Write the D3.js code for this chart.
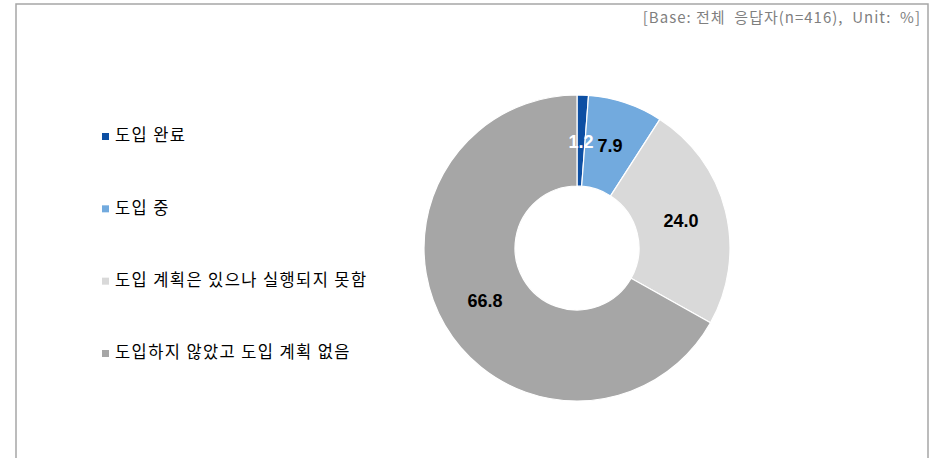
<!DOCTYPE html>
<html><head><meta charset="utf-8">
<script src="https://cdn.jsdelivr.net/npm/d3@7"></script>
<style>body{margin:0;background:#fff;}</style>
</head><body>
<svg id="c" width="945" height="458"></svg>
<script>
const categories = ["도입 완료", "도입 중", "도입 계획은 있으나 실행되지 못함", "도입하지 않았고 도입 계획 없음"];
const values = [1.2, 7.9, 24.0, 66.8];
const colors = ["#0d4fa3", "#72aade", "#d9d9d9", "#a6a6a6"];
const labelColors = ["#ffffff", "#000000", "#000000", "#000000"];
const note = "[Base: 전체  응답자(n=416),  Unit:  %]";

const svg = d3.select("#c");
const kfont = "'Noto Sans CJK KR', 'Noto Sans', sans-serif";

// frame
svg.append("path").attr("d", "M16,458 L16,4 L928,4 L928,458")
  .attr("fill", "none").attr("stroke", "#a6a6a6").attr("stroke-width", 1.5);

svg.append("text").attr("x", 921).attr("y", 23).attr("text-anchor", "end")
  .attr("font-family", kfont).attr("font-size", 15).attr("letter-spacing", 1)
  .attr("fill", "#7f7f7f")
  .attr("xml:space", "preserve").text(note);

const cx = 577, cy = 248, R = 153, r = 62;
const pie = d3.pie().sort(null).value(d => d);
const arcs = pie(values);
const arc = d3.arc().innerRadius(r).outerRadius(R);
const g = svg.append("g").attr("transform", `translate(${cx},${cy})`);
g.selectAll("path").data(arcs).join("path")
  .attr("d", arc).attr("fill", (d, i) => colors[i])
  .attr("stroke", "#fff").attr("stroke-width", 1.2);

// labels
const labelPos = [[4, -105], [33, -101], [104, -26], [-92, 54]];
g.selectAll("text.v").data(arcs).join("text").attr("class", "v")
  .attr("x", (d, i) => labelPos[i][0]).attr("y", (d, i) => labelPos[i][1])
  .attr("text-anchor", "middle").attr("dominant-baseline", "middle")
  .attr("font-family", "'Liberation Sans', Arial, sans-serif").attr("font-weight", "bold")
  .attr("font-size", 18).attr("fill", (d, i) => labelColors[i])
  .text(d => d.value.toFixed(1));

// legend
const ly = d3.scalePoint().domain(categories).range([137, 354]);
const lg = svg.append("g");
categories.forEach((c, i) => {
  lg.append("rect").attr("x", 102).attr("y", ly(c) - 4).attr("width", 7).attr("height", 7).attr("fill", colors[i]);
  lg.append("text").attr("x", 115).attr("y", ly(c)).attr("dominant-baseline", "middle")
    .attr("font-family", kfont).attr("font-size", 16.5).attr("letter-spacing", 1.4)
    .attr("fill", "#000").text(c);
});
</script>
</body></html>
